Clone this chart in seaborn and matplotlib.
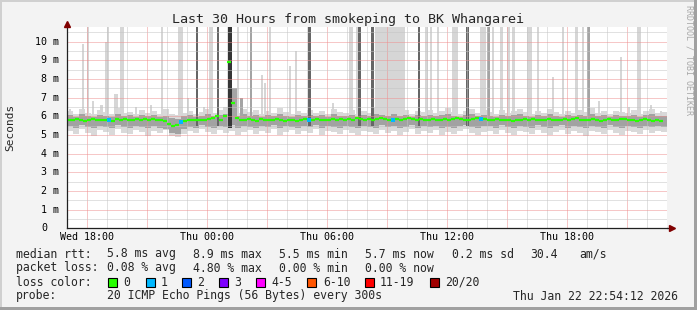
import numpy as np
import pandas as pd
import matplotlib
matplotlib.use("Agg")
import matplotlib.pyplot as plt
import seaborn as sns
from matplotlib.patches import Rectangle
from matplotlib.lines import Line2D
from matplotlib.transforms import offset_copy

# ---------------- data ----------------
title = "Last 30 Hours from smokeping to BK Whangarei"
y_label = "Seconds"
x_tick_hours = [1, 7, 13, 19, 25]          # hours after Wed 17:00
x_tick_labels = ["Wed 18:00", "Thu 00:00", "Thu 06:00", "Thu 12:00", "Thu 18:00"]
y_tick_values = [0, 1, 2, 3, 4, 5, 6, 7, 8, 9, 10]
y_tick_labels = ["0", "1 m", "2 m", "3 m", "4 m", "5 m", "6 m", "7 m", "8 m", "9 m", "10 m"]

# median rtt (ms), one value per 12 minutes
median_step_h = 0.2
median_ms = [
    5.80, 5.78, 5.85, 5.80, 5.75, 5.82, 5.88, 5.80, 5.78, 5.83,
    5.80, 5.76, 5.84, 5.80, 5.86, 5.78, 5.82, 5.88, 5.80, 5.84,
    5.80, 5.86, 5.78, 5.82, 5.75, 5.60, 5.48, 5.55, 5.70, 5.76,
    5.80, 5.78, 5.82, 5.80, 5.78, 5.85, 5.90, 6.00, 5.82, 6.02,
    8.90, 6.70, 5.90, 5.82, 5.78, 5.85, 5.80, 5.76, 5.84, 5.80,
    5.78, 5.82, 5.85, 5.78, 5.74, 5.80, 5.82, 5.76, 5.80, 5.84,
    5.78, 5.82, 5.86, 5.80, 5.78, 5.82, 5.85, 5.80, 5.88, 5.82,
    5.86, 5.80, 5.90, 5.84, 5.82, 5.88, 5.80, 5.85, 5.90, 5.84,
    5.80, 5.78, 5.84, 5.80, 5.88, 5.92, 5.84, 5.80, 5.86, 5.82,
    5.80, 5.86, 5.82, 5.78, 5.84, 5.80, 5.86, 5.90, 5.84, 5.80,
    5.82, 5.86, 5.90, 5.84, 5.88, 5.82, 5.80, 5.84, 5.78, 5.82,
    5.80, 5.76, 5.82, 5.78, 5.84, 5.80, 5.86, 5.82, 5.78, 5.80,
    5.84, 5.80, 5.78, 5.82, 5.86, 5.80, 5.84, 5.90, 5.82, 5.78,
    5.80, 5.84, 5.80, 5.76, 5.82, 5.86, 5.80, 5.78, 5.84, 5.88,
    5.82, 5.80, 5.76, 5.80, 5.84, 5.78, 5.74, 5.80, 5.76,
]
loss_steps = [10, 28, 60, 81, 103]     # median steps with packet loss
loss_counts = [1, 1, 1, 1, 1]

# smoke envelope (ms), one value per 18 minutes
smoke_step_h = 0.3
smoke_outer_lo = [
    5.20, 5.05, 5.30, 5.10, 4.95, 5.25, 5.15, 5.00, 5.30, 5.10,
    5.05, 5.25, 5.15, 4.95, 5.20, 5.10, 5.25, 4.95, 4.90, 5.05,
    5.20, 5.10, 5.30, 5.15, 5.05, 5.25, 5.10, 5.20, 5.00, 5.15,
    5.25, 5.05, 5.20, 5.10, 5.30, 5.00, 5.15, 5.25, 5.05, 5.20,
    5.10, 5.30, 5.00, 5.20, 5.15, 5.05, 5.25, 5.10, 5.00, 5.20,
    5.15, 5.05, 5.25, 5.10, 5.20, 5.00, 5.15, 5.30, 5.05, 5.20,
    5.10, 5.25, 5.00, 5.15, 5.05, 5.20, 5.30, 5.10, 5.00, 5.15,
    5.20, 5.05, 5.25, 5.10, 5.00, 5.20, 5.15, 5.05, 5.25, 5.10,
    5.00, 5.15, 5.25, 5.05, 5.20, 5.10, 4.95, 5.20, 5.15, 5.05,
    5.25, 5.10, 5.00, 5.20, 5.15, 5.05, 5.25, 5.10, 5.20, 5.15,
]
smoke_outer_hi = [
    6.30, 6.15, 6.40, 6.20, 6.10, 6.35, 6.25, 6.15, 6.45, 6.20,
    6.25, 6.10, 6.35, 6.20, 6.30, 6.15, 6.40, 6.10, 6.05, 6.20,
    6.30, 6.15, 6.25, 6.40, 6.20, 6.35, 6.50, 6.30, 6.20, 6.40,
    6.25, 6.35, 6.15, 6.30, 6.20, 6.45, 6.25, 6.15, 6.30, 6.20,
    6.35, 6.20, 6.30, 6.15, 6.40, 6.25, 6.20, 6.35, 6.15, 6.30,
    6.20, 6.45, 6.30, 6.25, 6.40, 6.20, 6.35, 6.15, 6.30, 6.25,
    6.35, 6.20, 6.30, 6.45, 6.25, 6.15, 6.30, 6.40, 6.20, 6.35,
    6.25, 6.15, 6.35, 6.20, 6.30, 6.40, 6.25, 6.15, 6.30, 6.20,
    6.40, 6.25, 6.15, 6.30, 6.20, 6.35, 6.25, 6.45, 6.20, 6.30,
    6.15, 6.30, 6.25, 6.20, 6.35, 6.15, 6.30, 6.40, 6.20, 6.25,
]
smoke_inner_lo = [
    5.50, 5.40, 5.55, 5.45, 5.35, 5.50, 5.45, 5.40, 5.55, 5.45,
    5.40, 5.50, 5.45, 5.35, 5.50, 5.40, 5.30, 5.10, 5.05, 5.30,
    5.45, 5.40, 5.55, 5.45, 5.40, 5.50, 5.45, 5.55, 5.40, 5.50,
    5.45, 5.40, 5.50, 5.45, 5.55, 5.40, 5.50, 5.45, 5.40, 5.50,
    5.45, 5.55, 5.40, 5.50, 5.45, 5.40, 5.50, 5.45, 5.35, 5.50,
    5.45, 5.40, 5.55, 5.45, 5.50, 5.40, 5.45, 5.55, 5.40, 5.50,
    5.45, 5.50, 5.40, 5.45, 5.40, 5.50, 5.55, 5.45, 5.40, 5.50,
    5.50, 5.40, 5.55, 5.45, 5.40, 5.50, 5.45, 5.40, 5.55, 5.45,
    5.40, 5.50, 5.55, 5.40, 5.50, 5.45, 5.35, 5.50, 5.45, 5.40,
    5.55, 5.45, 5.40, 5.50, 5.45, 5.40, 5.50, 5.45, 5.50, 5.45,
]
smoke_inner_hi = [
    6.05, 5.98, 6.10, 6.00, 5.95, 6.08, 6.02, 5.98, 6.12, 6.00,
    6.05, 5.95, 6.08, 6.00, 6.05, 5.98, 6.00, 5.90, 5.85, 6.00,
    6.05, 5.98, 6.02, 6.10, 6.00, 6.08, 6.15, 6.05, 6.00, 6.10,
    6.02, 6.08, 5.98, 6.05, 6.00, 6.12, 6.02, 5.98, 6.05, 6.00,
    6.08, 6.00, 6.05, 5.98, 6.10, 6.02, 6.00, 6.08, 5.98, 6.05,
    6.00, 6.12, 6.05, 6.02, 6.10, 6.00, 6.08, 5.98, 6.05, 6.02,
    6.08, 6.00, 6.05, 6.12, 6.02, 5.98, 6.05, 6.10, 6.00, 6.08,
    6.02, 5.98, 6.08, 6.00, 6.05, 6.10, 6.02, 5.98, 6.05, 6.00,
    6.10, 6.02, 5.98, 6.05, 6.00, 6.08, 6.02, 6.12, 6.00, 6.05,
    5.98, 6.05, 6.02, 6.00, 6.08, 5.98, 6.05, 6.10, 6.00, 6.02,
]

# smoke spikes: start/end hour, top (ms), shade 0=light 1=medium 2=dark 3=very dark
spike_start_h = [0.10, 0.75, 1.00, 1.25, 1.65, 1.90, 2.00, 2.35, 2.65, 3.40,
                 4.15, 4.70, 5.55, 6.00, 6.45, 6.80, 7.10, 7.50, 8.05, 8.25,
                 8.50, 8.65, 9.15, 9.70, 9.85, 10.10, 11.10, 11.40, 12.05, 13.25,
                 14.10, 14.45, 14.55, 15.20, 15.40, 16.40, 17.55, 17.90, 18.15, 18.50,
                 19.25, 19.95, 20.65, 21.00, 21.25, 21.65, 22.00, 22.25, 23.00, 23.50,
                 24.25, 24.75, 25.40, 25.75, 26.00, 26.55, 27.65, 28.05, 28.50, 29.15,
                 29.65]
spike_end_h = [0.20, 0.85, 1.10, 1.35, 1.80, 2.00, 2.10, 2.55, 2.85, 3.50,
               4.25, 4.80, 5.80, 6.10, 6.55, 6.90, 7.30, 7.60, 8.25, 8.50,
               8.60, 8.80, 9.25, 9.80, 9.95, 10.20, 11.20, 11.50, 12.20, 13.35,
               14.30, 14.55, 14.70, 15.35, 16.40, 16.90, 17.65, 18.05, 18.25, 18.60,
               19.55, 20.10, 20.95, 21.15, 21.35, 21.80, 22.15, 22.40, 23.25, 23.60,
               24.35, 24.85, 25.55, 25.85, 26.15, 26.65, 27.75, 28.15, 28.70, 29.25,
               29.75]
spike_top_ms = [6.4, 9.9, 10.8, 6.8, 6.6, 10.0, 10.8, 7.2, 10.8, 6.5,
                6.6, 10.8, 10.8, 7.0, 10.8, 6.5, 10.8, 10.8, 10.8, 7.5,
                10.8, 7.0, 10.8, 8.2, 7.8, 10.8, 8.7, 9.5, 10.8, 6.7,
                10.8, 10.8, 10.8, 10.8, 10.8, 10.8, 10.8, 10.8, 10.8, 10.8,
                10.8, 10.8, 10.8, 10.8, 10.8, 10.8, 10.8, 10.8, 10.8, 10.8,
                8.1, 10.8, 10.8, 10.8, 10.8, 6.8, 9.2, 6.5, 10.8, 6.6,
                6.3]
spike_shade = [0, 0, 0, 0, 0, 0, 0, 0, 0, 0,
               0, 0, 0, 0, 2, 0, 0, 2, 3, 1,
               0, 1, 1, 0, 0, 0, 0, 0, 2, 0,
               0, 0, 2, 2, 0, 0, 2, 0, 0, 0,
               0, 2, 0, 1, 0, 0, 0, 0, 0, 0,
               0, 0, 0, 0, 1, 0, 0, 0, 0, 0,
               0]

rtt_stats = ["5.8 ms avg", "8.9 ms max", "5.5 ms min", "5.7 ms now", "0.2 ms sd", "30.4", "am/s"]
loss_stats = ["0.08 % avg", "4.80 % max", "0.00 % min", "0.00 % now"]
loss_color_labels = ["0", "1", "2", "3", "4-5", "6-10", "11-19", "20/20"]
loss_color_values = ["#26ff00", "#00b8ff", "#0059ff", "#7e00ff", "#ff00ff", "#ff5500", "#ff0000", "#a10000"]
probe_text = "20 ICMP Echo Pings (56 Bytes) every 300s"
timestamp_text = "Thu Jan 22 22:54:12 2026"

# ---------------- style ----------------
sns.set_style("white")
plt.rcParams["font.family"] = ["DejaVu Sans Mono"]

W, H, DPI = 697, 310, 100
fig = plt.figure(figsize=(W / DPI, H / DPI), dpi=DPI, facecolor="#f3f3f3")

def fx(x):
    return x / W

def fy(y):
    return 1 - y / H

ax_left, ax_right, ax_top, ax_bottom = 67, 667, 27, 228.3
ax = fig.add_axes([fx(ax_left), fy(ax_bottom), (ax_right - ax_left) / W, (ax_bottom - ax_top) / H])
ax.set_facecolor("white")
ax.set_xlim(0, 30)
ax.set_ylim(0, (ax_bottom - ax_top) / 18.66)

# smoke band
n_s = len(smoke_outer_lo)
sx = np.arange(n_s + 1) * smoke_step_h
def ext(a):
    return np.append(a, a[-1])
ax.fill_between(sx, ext(smoke_outer_lo), ext(smoke_outer_hi), step="post", color="#d9d9d9", lw=0, zorder=1)

shade_colors = ["#d6d6d6", "#a4a4a4", "#666666", "#363636"]
shade_base = [5.9, 5.6, 5.5, 5.4]
spk = pd.DataFrame({"start": spike_start_h, "end": spike_end_h, "top": spike_top_ms, "shade": spike_shade})
spk["center"] = (spk["start"] + spk["end"]) / 2
spk["width"] = spk["end"] - spk["start"]
spk["base"] = [shade_base[s] for s in spk["shade"]]
light = spk[spk["shade"] == 0]
ax.bar(light["center"], light["top"] - light["base"], bottom=light["base"], width=light["width"],
       color=shade_colors[0], lw=0, zorder=1.1)
ax.fill_between(sx, ext(smoke_inner_lo), ext(smoke_inner_hi), step="post", color="#a2a2a2", lw=0, zorder=1.2)
for s in [1, 2, 3]:
    d = spk[spk["shade"] == s]
    ax.bar(d["center"], d["top"] - d["base"], bottom=d["base"], width=d["width"],
           color=shade_colors[s], lw=0, zorder=1.3 + s * 0.1)

# median: one horizontal segment per step, coloured by loss
med = pd.DataFrame({"h": np.arange(len(median_ms)) * median_step_h + median_step_h / 2, "ms": median_ms})
loss = np.zeros(len(median_ms), dtype=int)
loss[loss_steps] = loss_counts
med["loss"] = loss
med["color"] = [loss_color_values[min(l, 7)] for l in med["loss"]]
ax.hlines(med["ms"], med["h"] - median_step_h / 2, med["h"] + median_step_h / 2,
          colors=med["color"], lw=1.6, zorder=3)
lossy = med[med["loss"] > 0]
sns.scatterplot(data=lossy, x="h", y="ms", ax=ax, color=loss_color_values[1], marker="s", s=6, lw=0, zorder=3.1)
ax.set_xlabel("")
ax.set_ylabel("")

# grid
ax.set_xticks(np.arange(1, 30, 3))
ax.set_xticks(np.arange(0, 31, 1), minor=True)
ax.set_yticks(y_tick_values)
ax.set_yticks(np.arange(0, 10.8, 0.5), minor=True)
lab_map = dict(zip(x_tick_hours, x_tick_labels))
ax.set_xticklabels([lab_map.get(int(t), "") for t in np.arange(1, 30, 3)], fontsize=7.2)
ax.set_yticklabels([])
ax.set_axisbelow(False)
ax.grid(which="minor", color="#c4c4c4", lw=0.72, ls=(0, (1, 1)))
ax.grid(which="major", color="#ee9090", lw=0.72, ls=(0, (1, 1)))
ax.tick_params(which="both", length=0)
ax.tick_params(axis="x", pad=2.5, colors="black")

for sp in ["top", "right"]:
    ax.spines[sp].set_visible(False)
for sp in ["left", "bottom"]:
    ax.spines[sp].set_color("#202020")
    ax.spines[sp].set_linewidth(0.9)
    ax.spines[sp].set_zorder(4)

# y tick labels
for v, lab in zip(y_tick_values, y_tick_labels):
    off = -8 if lab.endswith("m") else -20
    tr = offset_copy(ax.get_yaxis_transform(), fig=fig, x=off, y=0, units="dots")
    ax.text(0, v, lab, transform=tr, ha="right", va="center", fontsize=7.2, color="black")

# axis arrows
ax.add_line(Line2D([0, 0], [1, 1 + 5 / (ax_bottom - ax_top)], transform=ax.transAxes, color="#202020",
                   lw=0.9, clip_on=False, zorder=4))
ax.add_line(Line2D([1, 1 + 4 / 600], [0, 0], transform=ax.transAxes, color="#202020",
                   lw=0.9, clip_on=False, zorder=4))
ax.plot([0], [1 + 3 / (ax_bottom - ax_top)], marker="^", ms=4.5, color="#800000", transform=ax.transAxes,
        clip_on=False, zorder=5)
ax.plot([1 + 5 / 600], [0], marker=">", ms=4.5, color="#800000", transform=ax.transAxes,
        clip_on=False, zorder=5)

# titles
fig.text(fx(347.5), fy(19), title, ha="center", va="center", fontsize=9.6)
fig.text(fx(10), fy(127), y_label, ha="center", va="center", rotation=90, fontsize=8)
fig.text(fx(689), fy(60), "RRDTOOL / TOBI OETIKER", ha="center", va="center", rotation=270,
         fontsize=6, color="#a8a8a8")

# legend
LF = 8.3
fig.text(fx(16), fy(254), "median rtt:", ha="left", va="center", fontsize=LF)
for x, s in zip([107, 193, 279, 365, 452, 530, 579], rtt_stats):
    fig.text(fx(x), fy(254), s, ha="left", va="center", fontsize=LF)
fig.text(fx(16), fy(268), "packet loss:", ha="left", va="center", fontsize=LF)
for x, s in zip([107, 193, 279, 365], loss_stats):
    fig.text(fx(x), fy(268), s, ha="left", va="center", fontsize=LF)
fig.text(fx(16), fy(282), "loss color:", ha="left", va="center", fontsize=LF)
for bx, lx, lab, col in zip([108, 146, 182, 219, 256, 307, 365, 430],
                            [123, 161, 197, 234, 271, 323, 380, 445],
                            loss_color_labels, loss_color_values):
    fig.patches.append(Rectangle((fx(bx), fy(286.5)), 8.5 / W, 8.5 / H, transform=fig.transFigure,
                                 facecolor=col, edgecolor="black", lw=0.8))
    fig.text(fx(lx), fy(282), lab, ha="left", va="center", fontsize=LF)
fig.text(fx(16), fy(296), "probe:", ha="left", va="center", fontsize=LF)
fig.text(fx(107), fy(296), probe_text, ha="left", va="center", fontsize=LF)
fig.text(fx(513), fy(296), timestamp_text, ha="left", va="center", fontsize=LF)

# frame
fig.patches.append(Rectangle((0, 1 - 2 / H), 1, 2 / H, transform=fig.transFigure, color="#d0d0d0", lw=0))
fig.patches.append(Rectangle((0, 0), 2 / W, 1, transform=fig.transFigure, color="#d0d0d0", lw=0))
fig.patches.append(Rectangle((0, 0), 1, 3 / H, transform=fig.transFigure, color="#a0a0a0", lw=0))
fig.patches.append(Rectangle((1 - 3 / W, 0), 3 / W, 1, transform=fig.transFigure, color="#a0a0a0", lw=0))

fig.savefig("out.png", dpi=DPI, facecolor=fig.get_facecolor())
